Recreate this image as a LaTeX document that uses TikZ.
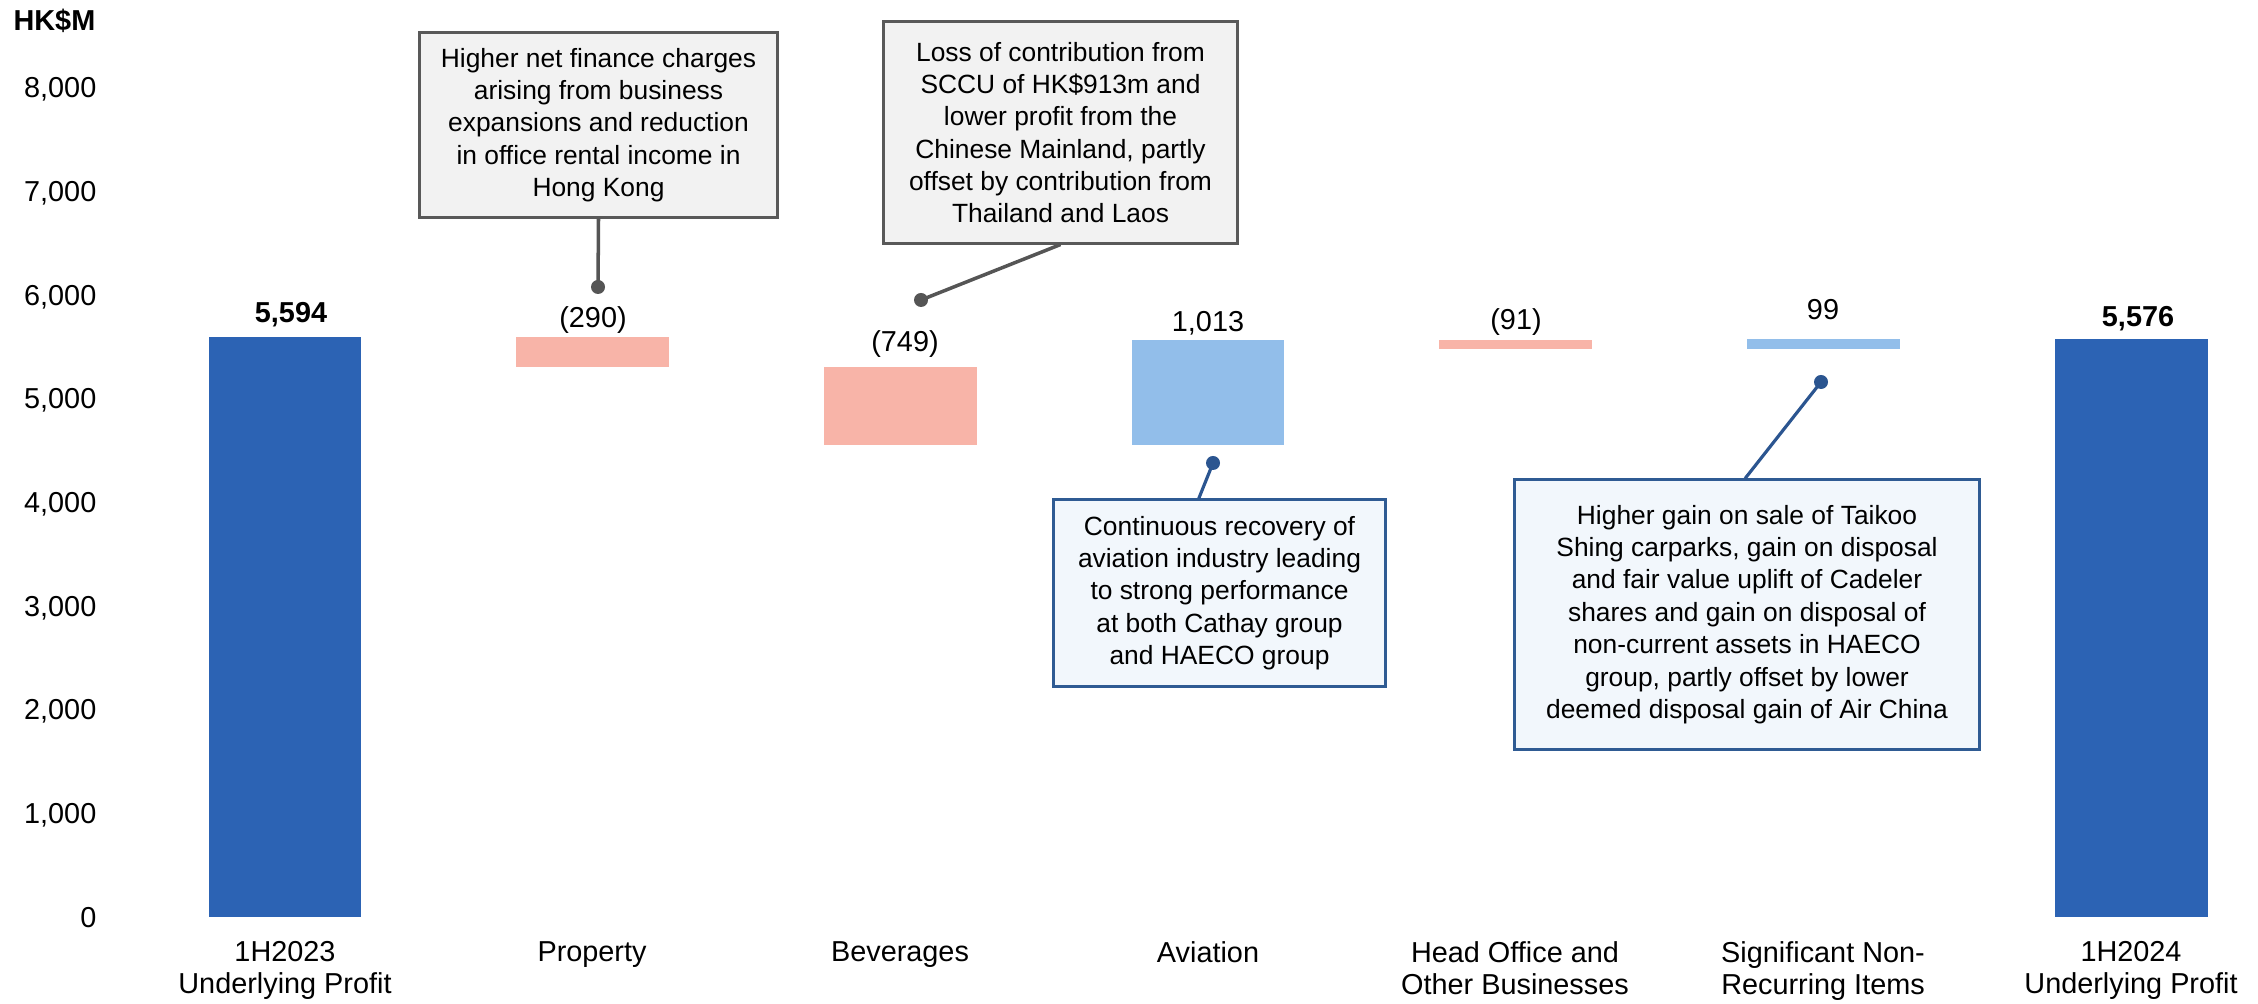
\documentclass[tikz,border=0pt]{standalone}
\usepackage{fontspec}
\setmainfont{Liberation Sans}
\usetikzlibrary{calc}
\definecolor{darkbar}{HTML}{2C63B4}
\definecolor{negbar}{HTML}{F8B4A8}
\definecolor{posbar}{HTML}{92BEEA}
\definecolor{greyedge}{HTML}{595959}
\definecolor{greyfill}{HTML}{F2F2F2}
\definecolor{blueedge}{HTML}{2F5B93}
\definecolor{bluefill}{HTML}{F2F7FC}
\definecolor{greyline}{HTML}{555555}
\definecolor{blueline}{HTML}{2B5590}
\begin{document}
\begin{tikzpicture}[x=0.01cm,y=-0.01cm,
  axislab/.style={anchor=base east,inner sep=0pt,font=\fontsize{8.2}{9.1}\selectfont},
  catlab/.style={anchor=north,inner sep=0pt,align=center,font=\fontsize{8.2}{9.1}\selectfont},
  vallab/.style={anchor=base,inner sep=0pt,font=\fontsize{8.2}{9.1}\selectfont},
  callout/.style={line width=0.85pt,align=center,inner sep=0pt,font=\fontsize{7.5}{9.2}\selectfont},
  greybox/.style={callout,draw=greyedge,fill=greyfill},
  bluebox/.style={callout,draw=blueedge,fill=bluefill},
  greydot/.style={circle,fill=greyline,inner sep=0pt,minimum size=0.14cm},
  bluedot/.style={circle,fill=blueline,inner sep=0pt,minimum size=0.14cm},
  greyconn/.style={draw=greyline,line width=1pt},
  blueconn/.style={draw=blueline,line width=0.9pt}
]
\useasboundingbox (0,0) rectangle (2258,1004);

% axis
\node[anchor=east,inner sep=0pt,font=\fontsize{8.2}{9.1}\selectfont\bfseries] (unit) at (96,21) {HK\$M};
\node[axislab] (t8) at (97,98.0) {8,000};
\node[axislab] (t7) at (97,201.7) {7,000};
\node[axislab] (t6) at (97,305.3) {6,000};
\node[axislab] (t5) at (97,409.0) {5,000};
\node[axislab] (t4) at (97,512.7) {4,000};
\node[axislab] (t3) at (97,616.3) {3,000};
\node[axislab] (t2) at (97,720.0) {2,000};
\node[axislab] (t1) at (97,823.6) {1,000};
\node[axislab] (t0) at (97,927.3) {0};

% bars
\fill[darkbar] (209,337.1) rectangle (361,917);
\fill[negbar] (516,337.1) rectangle (669,367.2);
\fill[negbar] (824,367.2) rectangle (977,444.8);
\fill[posbar] (1132,339.8) rectangle (1284,444.8);
\fill[negbar] (1439,339.8) rectangle (1592,349.3);
\fill[posbar] (1747,339.0) rectangle (1900,349.3);
\fill[darkbar] (2055,339.0) rectangle (2208,917);

% value labels
\node[vallab,font=\fontsize{8.2}{9.1}\selectfont\bfseries] (v1) at (291,323) {5,594};
\node[vallab] (v2) at (593,328) {(290)};
\node[vallab] (v3) at (905,352) {(749)};
\node[vallab] (v4) at (1208,332) {1,013};
\node[vallab] (v5) at (1516,330) {(91)};
\node[vallab] (v6) at (1823,320) {99};
\node[vallab,font=\fontsize{8.2}{9.1}\selectfont\bfseries] (v7) at (2138,327) {5,576};

% category labels
\node[catlab] (c1) at (285,941) {1H2023\\Underlying Profit};
\node[catlab] (c2) at (592,941) {Property};
\node[catlab] (c3) at (900,941) {Beverages};
\node[catlab] (c4) at (1208,941) {Aviation};
\node[catlab] (c5) at (1515,941) {Head Office and\\Other Businesses};
\node[catlab] (c6) at (1823,941) {Significant Non-\\Recurring Items};
\node[catlab] (c7) at (2131,941) {1H2024\\Underlying Profit};

% callouts
\node[greybox,minimum width=3.57cm,minimum height=1.84cm] (b1) at (598.5,125)
  {Higher net finance charges\\arising from business\\expansions and reduction\\in office rental income in\\Hong Kong};
\node[greybox,minimum width=3.53cm,minimum height=2.21cm] (b2) at (1060.5,132.5)
  {Loss of contribution from\\SCCU of HK\$913m and\\lower profit from the\\Chinese Mainland, partly\\offset by contribution from\\Thailand and Laos};
\node[bluebox,minimum width=3.31cm,minimum height=1.86cm] (b3) at (1219.5,593)
  {Continuous recovery of\\aviation industry leading\\to strong performance\\at both Cathay group\\and HAECO group};
\node[bluebox,minimum width=4.64cm,minimum height=2.69cm] (b4) at (1747,614.5)
  {Higher gain on sale of Taikoo\\Shing carparks, gain on disposal\\and fair value uplift of Cadeler\\shares and gain on disposal of\\non-current assets in HAECO\\group, partly offset by lower\\deemed disposal gain of Air China};

% dots
\node[greydot] (d1) at (598,287) {};
\node[greydot] (d2) at (921,300) {};
\node[bluedot] (d3) at (1213,463) {};
\node[bluedot] (d4) at (1821,382) {};

% connectors
\draw[greyconn] (b1.south) -- (d1.center);
\draw[greyconn] (b2.south) -- (d2.center);
\draw[blueconn] ($(b3.north west)!0.438!(b3.north east)$) -- (d3.center);
\draw[blueconn] ($(b4.north west)!0.496!(b4.north east)$) -- (d4.center);
\end{tikzpicture}
\end{document}
